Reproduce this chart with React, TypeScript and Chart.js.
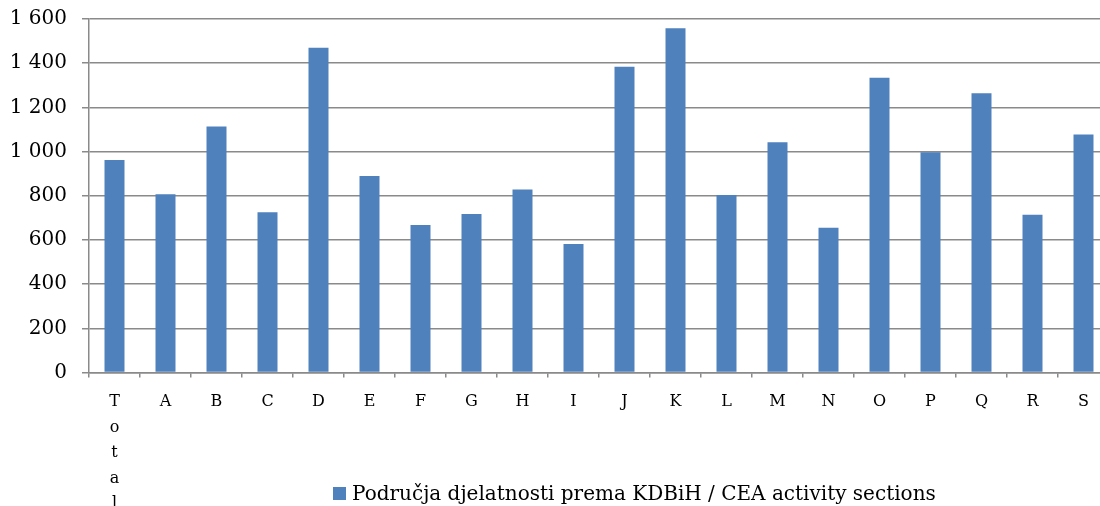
import React, { useEffect, useRef } from "react";
import { Chart, registerables } from "chart.js";

Chart.register(...registerables);

const categories: (string | string[])[] = [
  ["T", "o", "t", "a", "l"], "A", "B", "C", "D", "E", "F", "G", "H", "I",
  "J", "K", "L", "M", "N", "O", "P", "Q", "R", "S",
];
const values: number[] = [
  962, 807, 1113, 725, 1470, 889, 668, 717, 828, 582,
  1384, 1558, 803, 1042, 655, 1334, 997, 1264, 714, 1077,
];
const seriesLabel = "Područja djelatnosti prema KDBiH / CEA activity sections";
const yTicks: number[] = [0, 200, 400, 600, 800, 1000, 1200, 1400, 1600];

const BAR_COLOR = "#4F81BD";
const GRID_COLOR = "#8a8a8a";
const FONT = "'DejaVu Serif', serif";

function fmt(v: number): string {
  const s = String(Math.round(v));
  return s.replace(/\B(?=(\d{3})+(?!\d))/g, " ");
}

export default function App() {
  const ref = useRef<HTMLCanvasElement | null>(null);

  useEffect(() => {
    document.body.style.margin = "0";
    document.body.style.overflow = "hidden";
    document.documentElement.style.overflow = "hidden";
    const canvas = ref.current;
    if (!canvas) return;
    const chart = new Chart(canvas, {
      type: "bar",
      data: {
        labels: categories,
        datasets: [
          {
            label: seriesLabel,
            data: values,
            backgroundColor: BAR_COLOR,
            borderWidth: 0,
            barPercentage: 0.392,
            categoryPercentage: 1,
          },
        ],
      },
      options: {
        animation: false,
        responsive: false,
        devicePixelRatio: 1,
        layout: { padding: { top: 19, right: 1, bottom: 0, left: 0 } },
        plugins: {
          legend: { display: false },
          tooltip: { enabled: false },
        },
        scales: {
          x: {
            grid: {
              display: true,
              drawOnChartArea: false,
              drawTicks: true,
              tickLength: 5,
              color: GRID_COLOR,
              lineWidth: 1.5,
              offset: true,
            },
            border: { display: true, color: GRID_COLOR, width: 1.5 },
            ticks: {
              color: "#000",
              font: { family: FONT, size: 16, lineHeight: 1.59 },
              padding: 12,
              maxRotation: 0,
              minRotation: 0,
              autoSkip: false,
            },
            afterFit: (scale: any) => {
              scale.height = 133.5;
            },
          },
          y: {
            min: 0,
            max: 1600,
            afterBuildTicks: (scale: any) => {
              scale.ticks = yTicks.map((v) => ({ value: v }));
            },
            grid: {
              color: GRID_COLOR,
              lineWidth: 1.5,
              tickLength: 7,
              drawTicks: true,
            },
            border: { display: true, color: GRID_COLOR, width: 1.5 },
            ticks: {
              color: "#000",
              font: { family: FONT, size: 20 },
              padding: 15,
              callback: (v: any) => fmt(Number(v)),
            },
            afterFit: (scale: any) => {
              scale.width = 89;
              scale.paddingTop = 0;
              scale.paddingBottom = 0;
            },
          },
        },
      },
    });
    return () => chart.destroy();
  }, []);

  return (
    <div style={{ position: "relative", width: 1100, height: 506, overflow: "hidden", background: "#fff" }}>
      <canvas ref={ref} width={1110} height={506} style={{ position: "absolute", left: 0, top: 0 }} />
      <div
        style={{
          position: "absolute",
          left: 333,
          top: 481,
          height: 24,
          display: "flex",
          alignItems: "center",
          fontFamily: FONT,
          fontSize: 20,
          color: "#000",
          whiteSpace: "nowrap",
        }}
      >
        <span style={{ display: "inline-block", width: 13, height: 13, background: BAR_COLOR, marginRight: 6 }} />
        <span>{seriesLabel}</span>
      </div>
    </div>
  );
}
